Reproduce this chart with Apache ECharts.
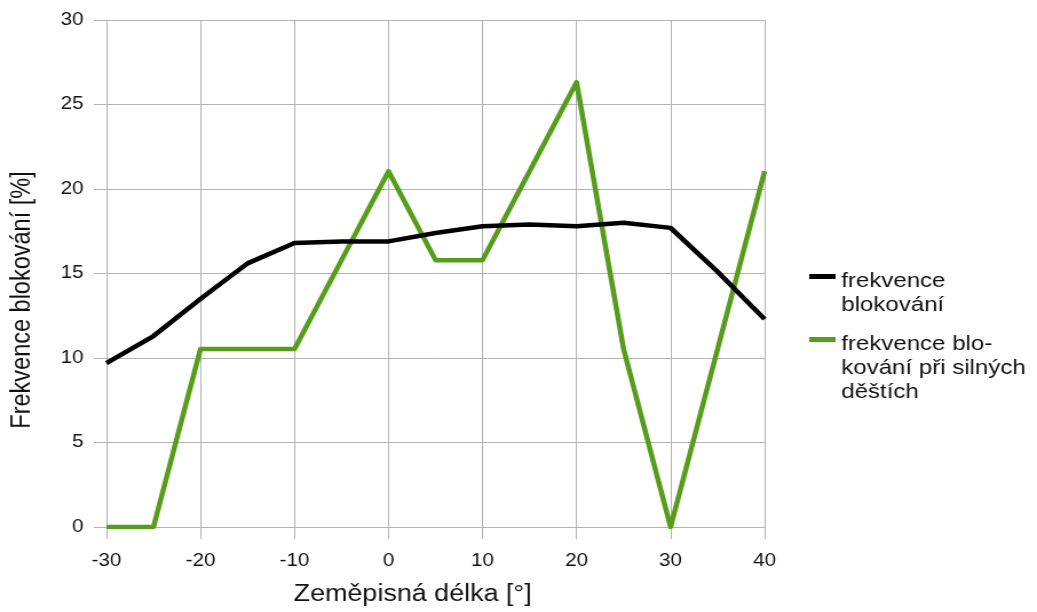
<!DOCTYPE html>
<html>
<head>
<meta charset="utf-8">
<script src="https://cdn.jsdelivr.net/npm/echarts@6/dist/echarts.min.js"></script>
<style>
  html, body { margin: 0; padding: 0; background: #ffffff; overflow: hidden; }
  /* the chart is laid out at 906 px and widened to the 1037 px page */
  #chart { width: 906px; height: 612px; transform: scaleX(1.14459); transform-origin: 0 0; }
</style>
</head>
<body>
<div id="chart"></div>
<script>
// zeměpisná délka [°]
const longitude = [-30, -25, -20, -15, -10, -5, 0, 5, 10, 15, 20, 25, 30, 35, 40];
// frekvence blokování [%]
const blocking = [9.7, 11.3, 13.5, 15.6, 16.8, 16.9, 16.9, 17.4, 17.8, 17.9, 17.8, 18.0, 17.7, 15.1, 12.3];
// frekvence blokování při silných deštích [%]
const heavyRain = [0, 0, 10.53, 10.53, 10.53, 15.79, 21.05, 15.79, 15.79, 21.05, 26.32, 10.53, 0, 10.53, 21.05];

const xTicks = { min: -30, max: 40, step: 10 };
const yTicks = { min: 0, max: 30, step: 5 };

const seriesNames = ['frekvence blokování', 'frekvence blokování při silných deštích'];
const legendLines = [
  ['frekvence', 'blokování'],
  ['frekvence blo-', 'kování při silných', 'děštích']
];

const FONT = '"Liberation Sans", Arial, sans-serif';
const GRID = '#b3b3b3';
const TEXT = '#111111';
const LINE_H = 24;

const pairs = ys => longitude.map((x, i) => [x, ys[i]]);

// legend entry: a spacer line above the text keeps the first line level with the key
function legendFor(name, lines, top) {
  const spacer = lines.length * LINE_H - 14;
  const text = ['{s| }'].concat(lines.map(l => '{t|' + l + '}')).join('\n');
  return {
    data: [name],
    left: 707,
    top: top,
    orient: 'vertical',
    padding: 0,
    itemWidth: 23,
    itemHeight: 5,
    icon: 'rect',
    formatter: () => text,
    textStyle: {
      fontFamily: FONT, fontSize: 21, color: TEXT,
      rich: {
        s: { fontSize: 4, lineHeight: spacer },
        t: { fontFamily: FONT, fontSize: 21, color: TEXT, lineHeight: LINE_H }
      }
    }
  };
}

const chart = echarts.init(document.getElementById('chart'));
chart.setOption({
  animation: false,
  backgroundColor: '#ffffff',
  grid: { left: 92, right: 238, top: 20, bottom: 83 },
  legend: [
    legendFor(seriesNames[0], legendLines[0], 250.5),
    legendFor(seriesNames[1], legendLines[1], 301.5)
  ],
  xAxis: {
    type: 'value',
    min: xTicks.min, max: xTicks.max, interval: xTicks.step,
    name: 'Zeměpisná délka [°]',
    nameLocation: 'middle',
    nameGap: 56,
    nameTextStyle: { fontFamily: FONT, fontSize: 23.5, color: TEXT, padding: [0, 40, 0, 0] },
    axisLine: { onZero: false, lineStyle: { color: GRID, width: 1 } },
    axisTick: { show: true, length: 12, lineStyle: { color: GRID } },
    axisLabel: { fontFamily: FONT, fontSize: 18, color: TEXT, margin: 25 },
    splitLine: { show: true, lineStyle: { color: GRID, width: 1 } }
  },
  yAxis: {
    type: 'value',
    min: yTicks.min, max: yTicks.max, interval: yTicks.step,
    name: 'Frekvence blokování [%]',
    nameLocation: 'middle',
    nameGap: 61,
    nameTextStyle: { fontFamily: FONT, fontSize: 23.5, color: TEXT, padding: [0, 53, 0, 0] },
    axisLine: { show: true, onZero: false, lineStyle: { color: GRID, width: 1 } },
    axisTick: { show: true, length: 11, lineStyle: { color: GRID } },
    axisLabel: { fontFamily: FONT, fontSize: 18, color: TEXT, margin: 20 },
    splitLine: { show: true, lineStyle: { color: GRID, width: 1 } }
  },
  series: [
    {
      name: seriesNames[0],
      type: 'line',
      z: 3,
      data: pairs(blocking),
      symbol: 'none',
      color: '#000000',
      lineStyle: { color: '#000000', width: 4.5, join: 'round' }
    },
    {
      name: seriesNames[1],
      type: 'line',
      z: 2,
      data: pairs(heavyRain),
      symbol: 'none',
      color: '#579d1c',
      lineStyle: { color: '#579d1c', width: 4.5, join: 'round' }
    }
  ]
});
</script>
</body>
</html>
